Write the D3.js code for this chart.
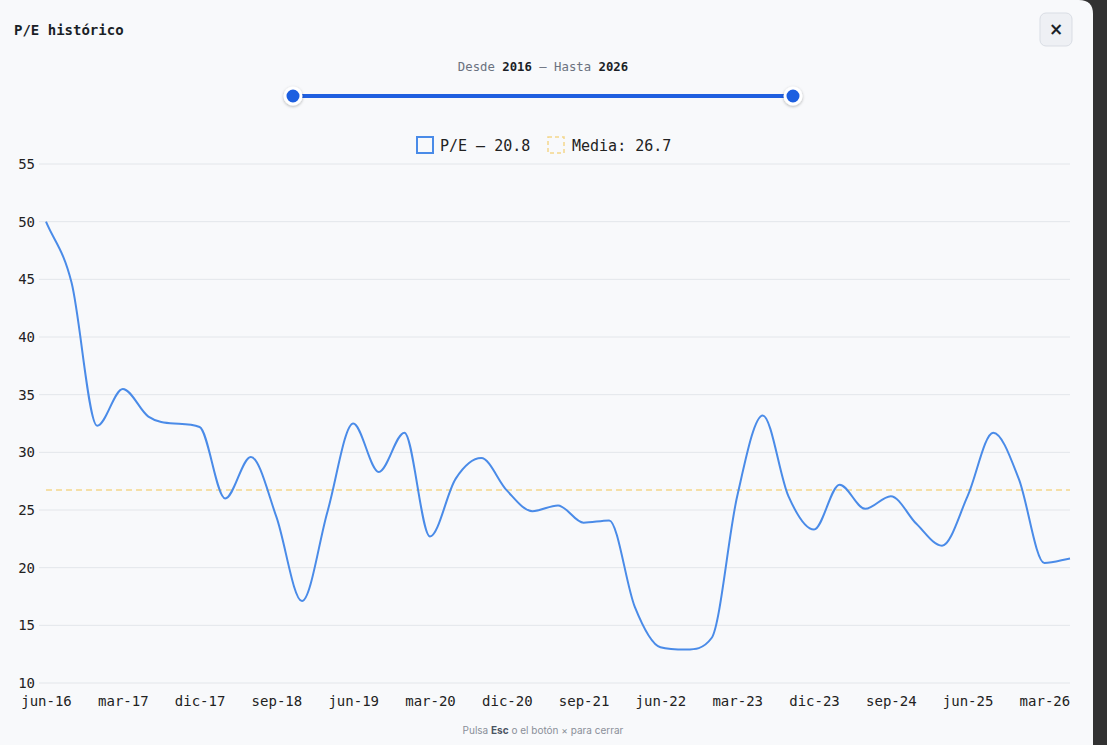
<!DOCTYPE html>
<html>
<head>
<meta charset="utf-8">
<script src="https://cdn.jsdelivr.net/npm/d3@7"></script>
<style>
  html, body { margin: 0; padding: 0; background: #323232; overflow: hidden; }
  svg { display: block; }
</style>
</head>
<body>
<div id="chart-area"></div>
<script>
// quarterly P/E history
const quarters = [
  "jun-16","sep-16","dic-16","mar-17","jun-17","sep-17","dic-17","mar-18","jun-18","sep-18",
  "dic-18","mar-19","jun-19","sep-19","dic-19","mar-20","jun-20","sep-20","dic-20","mar-21",
  "jun-21","sep-21","dic-21","mar-22","jun-22","sep-22","dic-22","mar-23","jun-23","sep-23",
  "dic-23","mar-24","jun-24","sep-24","dic-24","mar-25","jun-25","sep-25","dic-25","mar-26",
  "jun-26"
]
const peValues = [
  50.0, 44.7, 32.3, 35.5, 33.1, 32.5, 32.2, 26.0, 29.6, 24.4,
  17.1, 24.9, 32.5, 28.3, 31.7, 22.7, 27.7, 29.5, 26.7, 24.9,
  25.4, 23.9, 24.1, 16.6, 13.1, 12.9, 13.9, 26.2, 33.2, 26.2,
  23.3, 27.2, 25.1, 26.2, 23.8, 21.9, 26.2, 31.7, 27.7, 20.4,
  20.8
]
const yTicks = [10, 15, 20, 25, 30, 35, 40, 45, 50, 55]
const yearFrom = 2016
const yearTo = 2026

const W = 1107, H = 745
const PANEL_W = 1093
const MARGIN = { LEFT: 46, RIGHT: 23, TOP: 164, BOTTOM: 62 }
const MONO = "'DejaVu Sans Mono', 'Liberation Mono', monospace"
const LINE_COLOR = "#4a8be8"
const MEAN_COLOR = "#f3d68c"

// Fritsch-Carlson monotone cubic, endpoint tangents = end secants
function FCMonotone(context) { this._context = context }
FCMonotone.prototype = {
  areaStart: function() {},
  areaEnd: function() {},
  lineStart: function() { this._pts = [] },
  point: function(px, py) { this._pts.push([px, py]) },
  lineEnd: function() {
    const p = this._pts, ctx = this._context, n = p.length
    if (!n) return
    const delta = [], m = []
    for (let i = 0; i < n - 1; i++) {
      const dx = p[i + 1][0] - p[i][0]
      delta.push(dx ? (p[i + 1][1] - p[i][1]) / dx : 0)
    }
    for (let i = 0; i < n; i++) {
      if (i === 0) m.push(delta[0])
      else if (i === n - 1) m.push(delta[n - 2])
      else if (Math.sign(delta[i - 1]) !== Math.sign(delta[i])) m.push(0)
      else m.push((delta[i - 1] + delta[i]) / 2)
    }
    for (let i = 0; i < n - 1; i++) {
      if (Math.abs(delta[i]) < 1e-9) { m[i] = m[i + 1] = 0; continue }
      const a = m[i] / delta[i], b = m[i + 1] / delta[i]
      const sq = a * a + b * b
      if (sq <= 9) continue
      const tau = 3 / Math.sqrt(sq)
      m[i] = a * tau * delta[i]
      m[i + 1] = b * tau * delta[i]
    }
    ctx.moveTo(p[0][0], p[0][1])
    for (let i = 1; i < n; i++) {
      const dx = (p[i][0] - p[i - 1][0]) / 3
      ctx.bezierCurveTo(p[i - 1][0] + dx, p[i - 1][1] + dx * m[i - 1],
        p[i][0] - dx, p[i][1] - dx * m[i], p[i][0], p[i][1])
    }
  }
}
function fcMonotone(context) { return new FCMonotone(context) }

const svg = d3.select("#chart-area").append("svg")
  .attr("width", W)
  .attr("height", H)

// modal panel
svg.append("path")
  .attr("d", "M0,0 H" + (PANEL_W - 14) + " Q" + PANEL_W + ",0 " + PANEL_W + ",14 V" + H + " H0 Z")
  .attr("fill", "#f8f9fb")

// title
svg.append("text")
  .attr("x", 14).attr("y", 35)
  .attr("font-family", MONO)
  .attr("font-weight", "bold")
  .attr("font-size", "14px")
  .attr("fill", "#1b1f27")
  .text("P/E histórico")

// close button
svg.append("rect")
  .attr("x", 1040).attr("y", 13)
  .attr("width", 32).attr("height", 33)
  .attr("rx", 6)
  .attr("fill", "#eef0f4")
  .attr("stroke", "#d9dde4")
svg.append("text")
  .attr("x", 1056).attr("y", 35)
  .attr("text-anchor", "middle")
  .attr("font-family", "DejaVu Sans, sans-serif")
  .attr("font-weight", "bold")
  .attr("font-size", "17px")
  .attr("fill", "#1b1f27")
  .text("×")

// range label
const range = svg.append("text")
  .attr("x", 543).attr("y", 71)
  .attr("text-anchor", "middle")
  .attr("font-family", MONO)
  .attr("font-size", "12.3px")
  .attr("fill", "#6b7280")
range.append("tspan").text("Desde ")
range.append("tspan").attr("font-weight", "bold").attr("fill", "#1b1f27").text(yearFrom)
range.append("tspan").text(" — Hasta ")
range.append("tspan").attr("font-weight", "bold").attr("fill", "#1b1f27").text(yearTo)

// slider
const defs = svg.append("defs")
const shadow = defs.append("filter").attr("id", "thumbShadow")
  .attr("x", "-50%").attr("y", "-50%").attr("width", "200%").attr("height", "200%")
shadow.append("feDropShadow")
  .attr("dx", 0).attr("dy", 1).attr("stdDeviation", 1.5)
  .attr("flood-color", "#000").attr("flood-opacity", 0.3)

const sliderX = d3.scaleLinear().domain([yearFrom, yearTo]).range([293, 793])
svg.append("line")
  .attr("x1", sliderX(yearFrom)).attr("x2", sliderX(yearTo))
  .attr("y1", 96).attr("y2", 96)
  .attr("stroke", "#1f5fe0")
  .attr("stroke-width", 4)
svg.selectAll(".thumb")
  .data([yearFrom, yearTo])
  .enter().append("circle")
  .attr("class", "thumb")
  .attr("cx", function(d) { return sliderX(d) })
  .attr("cy", 96)
  .attr("r", 8)
  .attr("fill", "#1f5fe0")
  .attr("stroke", "#fff")
  .attr("stroke-width", 3)
  .attr("filter", "url(#thumbShadow)")

// scales
const x = d3.scalePoint()
  .domain(quarters)
  .range([MARGIN.LEFT, PANEL_W - MARGIN.RIGHT])

const y = d3.scaleLinear()
  .domain([d3.min(yTicks), d3.max(yTicks)])
  .range([H - MARGIN.BOTTOM, MARGIN.TOP])

const meanPE = d3.mean(peValues)

// grid
svg.append("g")
  .selectAll("line")
  .data(yTicks)
  .enter().append("line")
  .attr("x1", MARGIN.LEFT - 7)
  .attr("x2", x.range()[1])
  .attr("y1", function(d) { return y(d) })
  .attr("y2", function(d) { return y(d) })
  .attr("stroke", "#e3e6ea")
  .attr("stroke-width", 1)

// y axis
const yAxisCall = d3.axisLeft(y)
  .tickValues(yTicks)
  .tickSize(0)
  .tickPadding(11)
svg.append("g")
  .attr("class", "y axis")
  .attr("transform", "translate(" + MARGIN.LEFT + ", 0)")
  .call(yAxisCall)
  .call(function(g) { g.select(".domain").remove() })
  .selectAll("text")
    .attr("font-family", MONO)
    .attr("font-size", "14px")
    .attr("fill", "#222")

// x axis, every third quarter labelled
const xAxisCall = d3.axisBottom(x)
  .tickValues(quarters.filter(function(d, i) { return i % 3 === 0 && i < quarters.length - 1 }))
  .tickSize(0)
  .tickPadding(13)
svg.append("g")
  .attr("class", "x axis")
  .attr("transform", "translate(0, " + (H - MARGIN.BOTTOM) + ")")
  .call(xAxisCall)
  .call(function(g) { g.select(".domain").remove() })
  .selectAll("text")
    .attr("font-family", MONO)
    .attr("font-size", "14px")
    .attr("fill", "#222")

// mean line
svg.append("line")
  .attr("x1", MARGIN.LEFT).attr("x2", x.range()[1])
  .attr("y1", y(meanPE)).attr("y2", y(meanPE))
  .attr("stroke", MEAN_COLOR)
  .attr("stroke-width", 1.5)
  .attr("stroke-dasharray", "6,4")

// P/E line
const line = d3.line()
  .x(function(d, i) { return x(quarters[i]) })
  .y(function(d) { return y(d) })
  .curve(fcMonotone)

svg.append("path")
  .datum(peValues)
  .attr("fill", "none")
  .attr("stroke", LINE_COLOR)
  .attr("stroke-width", 2)
  .attr("d", line)

// legend
const legend = svg.append("g").attr("font-family", MONO).attr("font-size", "15px").attr("fill", "#222")
legend.append("rect")
  .attr("x", 417).attr("y", 137).attr("width", 16).attr("height", 16)
  .attr("fill", "none").attr("stroke", LINE_COLOR).attr("stroke-width", 2)
legend.append("text")
  .attr("x", 440).attr("y", 151)
  .text("P/E — " + peValues[peValues.length - 1].toFixed(1))
legend.append("rect")
  .attr("x", 548).attr("y", 137).attr("width", 16).attr("height", 16)
  .attr("fill", "none").attr("stroke", MEAN_COLOR).attr("stroke-width", 1.5)
  .attr("stroke-dasharray", "4,3")
legend.append("text")
  .attr("x", 572).attr("y", 151)
  .text("Media: " + meanPE.toFixed(1))

// footer hint
const hint = svg.append("text")
  .attr("x", 543).attr("y", 734)
  .attr("text-anchor", "middle")
  .attr("font-family", "Inter, 'Noto Sans', sans-serif")
  .attr("font-size", "10px")
  .attr("fill", "#8a8f99")
hint.append("tspan").text("Pulsa ")
hint.append("tspan").attr("font-weight", "bold").attr("fill", "#4b5563").text("Esc")
hint.append("tspan").text(" o el botón × para cerrar")
</script>
</body>
</html>
